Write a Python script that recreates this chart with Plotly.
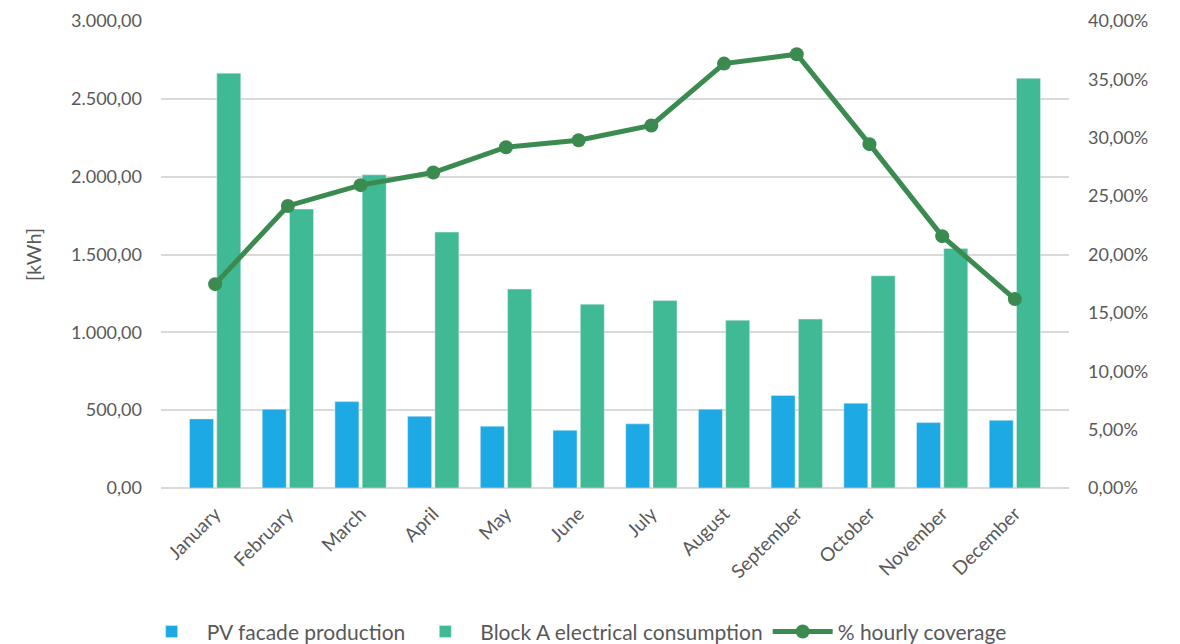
import plotly.graph_objects as go

months = ["January", "February", "March", "April", "May", "June", "July",
          "August", "September", "October", "November", "December"]
pv_production = [444, 506, 555, 461, 397, 371, 412, 506, 594, 545, 420, 435]
consumption = [2665, 1792, 2012, 1644, 1278, 1181, 1204, 1078, 1085, 1363, 1539, 2632]
coverage = [0.1746, 0.2416, 0.2594, 0.2702, 0.2919, 0.2979, 0.3105, 0.3635, 0.3715, 0.2945, 0.2157, 0.1618]

FONT = "Lato, 'Open Sans', sans-serif"
GRAY = "#595959"

fig = go.Figure()
fig.add_trace(go.Bar(x=months, y=pv_production, name="PV facade production",
                     marker=dict(color="#1DA9E3")))
fig.add_trace(go.Bar(x=months, y=consumption, name="Block A electrical consumption",
                     marker=dict(color="#40B995")))
fig.add_trace(go.Scatter(x=months, y=coverage, name="% hourly coverage", yaxis="y2",
                         mode="lines+markers",
                         line=dict(color="#3B8B50", width=5),
                         marker=dict(color="#3B8B50", size=14)))

fig.update_layout(
    width=1180, height=644,
    margin=dict(l=161, r=111, t=21, b=156, autoexpand=False),
    paper_bgcolor="white", plot_bgcolor="white",
    font=dict(family=FONT, size=18, color=GRAY),
    separators=",.",
    barmode="group", bargap=0.25, bargroupgap=0.12,
    showlegend=True,
    legend=dict(orientation="h", x=0.455, xanchor="center", y=-0.308, yanchor="middle",
                font=dict(size=21, color=GRAY), itemwidth=60, traceorder="normal"),
    xaxis=dict(tickangle=-45, showgrid=False, showline=False, ticks="", automargin=False,
               ticklabelstandoff=10,
               tickfont=dict(size=19, color=GRAY)),
    yaxis=dict(range=[0, 3000], dtick=500, tickformat=",.2f", automargin=False,
               gridcolor="#D9D9D9", gridwidth=2, zeroline=True, zerolinecolor="#D9D9D9",
               zerolinewidth=2, showline=False, ticks="", ticklabelstandoff=18,
               title=dict(text="[kWh]", font=dict(size=20, color=GRAY), standoff=24),
               tickfont=dict(size=18, color=GRAY)),
    yaxis2=dict(range=[0, 0.4], dtick=0.05, tickformat=".2%", overlaying="y", side="right",
                showgrid=False, zeroline=False, showline=False, ticks="", automargin=False,
                ticklabelstandoff=18,
                tickfont=dict(size=18, color=GRAY)),
)

fig.write_html("out.html")
